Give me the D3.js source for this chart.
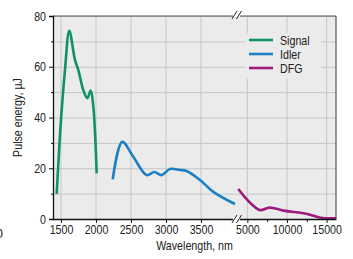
<!DOCTYPE html>
<html>
<head>
<meta charset="utf-8">
<script src="https://cdn.jsdelivr.net/npm/d3@7"></script>
<style>
  body { margin: 0; background: #fff; }
  text { font-family: "Liberation Sans", Arial, sans-serif; fill: #222; }
</style>
</head>
<body>
<div id="chart"></div>
<script>
// values (wavelength nm, pulse energy uJ)
var signalX = [1439, 1500, 1557, 1619, 1700, 1748, 1819, 1876, 1924, 1962, 2010];
var signalY = [9.9, 39, 58.7, 74.2, 62.7, 58.7, 50.8, 47.6, 50.6, 44.3, 18.0];

var idlerX = [2239, 2376, 2533, 2724, 2833, 2939, 3057, 3200, 3286, 3486, 3676, 3986];
var idlerY = [15.6, 30.4, 24.5, 17.3, 18.5, 17.3, 19.7, 19.3, 19.0, 15.4, 10.7, 5.9];

var dfgX = [3856, 4708, 5650, 6614, 7795, 9574, 12548, 14237, 16270];
var dfgY = [11.8, 8.5, 5.5, 3.5, 4.5, 3.3, 2.0, 0.5, 0.3];

var yTicks = [0, 20, 40, 60, 80];
var yMinor = [10, 30, 50, 70];
var x1Ticks = [1500, 2000, 2500, 3000, 3500];
var x2Ticks = [5000, 10000, 15000];
var x2Minor = [7500, 12500];

var seriesNames = ['Signal', 'Idler', 'DFG'];
var seriesColors = ['#12906a', '#1c80c3', '#9b1b7e'];

var W = 353, H = 259;
var pL = 53, pR = 336, pT = 16, pB = 219, brk = 238;

var svg = d3.select('#chart').append('svg').attr('width', W).attr('height', H);

var y = d3.scaleLinear().domain([0, 80]).range([pB, pT]);
var x1 = d3.scaleLinear().domain([1386, 4029]).range([pL, brk]);
var x2 = d3.scaleLinear().domain([3818, 16188]).range([brk, pR]);

// squeeze text to look like the narrow font of the original
function narrow(sel) {
  sel.each(function() {
    var len = this.getComputedTextLength();
    if (len > 0) d3.select(this).attr('textLength', len * 0.82).attr('lengthAdjust', 'spacingAndGlyphs');
  });
}

// plot background
svg.append('rect').attr('x', pL).attr('y', pT).attr('width', pR - pL).attr('height', pB - pT)
  .attr('fill', '#ebebeb');

// grid
var grid = svg.append('g').attr('stroke', '#c6c6c6').attr('stroke-width', 1);
yTicks.concat(yMinor).forEach(function(v) {
  grid.append('line').attr('x1', pL).attr('x2', pR).attr('y1', y(v) + 0.5).attr('y2', y(v) + 0.5);
});
x1Ticks.forEach(function(v) {
  grid.append('line').attr('x1', x1(v)).attr('x2', x1(v)).attr('y1', pT).attr('y2', pB);
});
x2Ticks.forEach(function(v) {
  grid.append('line').attr('x1', x2(v)).attr('x2', x2(v)).attr('y1', pT).attr('y2', pB);
});

// top / right frame
svg.append('line').attr('x1', pL).attr('x2', pR).attr('y1', pT).attr('y2', pT).attr('stroke', '#555').attr('stroke-width', 1.2);
svg.append('line').attr('x1', pR).attr('x2', pR).attr('y1', pT).attr('y2', pB).attr('stroke', '#555').attr('stroke-width', 1.2);

// lines
svg.append('clipPath').attr('id', 'c1').append('rect')
  .attr('x', pL).attr('y', 0).attr('width', brk - pL).attr('height', H);
svg.append('clipPath').attr('id', 'c2').append('rect')
  .attr('x', brk - 2).attr('y', 0).attr('width', pR - brk + 2).attr('height', H);

function drawLine(xs, ys, sc, color, clip) {
  var pts = xs.map(function(d, i) { return [d, ys[i]]; });
  var line = d3.line().x(function(d) { return sc(d[0]); }).y(function(d) { return y(d[1]); })
    .curve(d3.curveCatmullRom.alpha(0.5));
  svg.append('path').datum(pts).attr('d', line).attr('fill', 'none')
    .attr('stroke', color).attr('stroke-width', 2.6)
    .attr('stroke-linejoin', 'round').attr('clip-path', 'url(#' + clip + ')');
}
drawLine(signalX, signalY, x1, seriesColors[0], 'c1');
drawLine(idlerX, idlerY, x1, seriesColors[1], 'c1');
drawLine(dfgX, dfgY, x2, seriesColors[2], 'c2');

// axes
svg.append('g').attr('transform', 'translate(' + pL + ',0)')
  .call(d3.axisLeft(y).tickValues(yTicks).tickSize(4).tickPadding(3));
svg.append('g').attr('transform', 'translate(' + pL + ',0)')
  .call(d3.axisLeft(y).tickValues(yMinor).tickSize(2).tickFormat(''))
  .select('.domain').remove();
svg.append('g').attr('transform', 'translate(0,' + pB + ')')
  .call(d3.axisBottom(x1).tickValues(x1Ticks).tickSize(4).tickPadding(2).tickSizeOuter(0).tickFormat(d3.format('d')));
svg.append('g').attr('transform', 'translate(0,' + pB + ')')
  .call(d3.axisBottom(x2).tickValues(x2Ticks).tickSize(4).tickPadding(2).tickSizeOuter(0).tickFormat(d3.format('d')));
svg.append('g').attr('transform', 'translate(0,' + pB + ')')
  .call(d3.axisBottom(x2).tickValues(x2Minor).tickSize(3).tickSizeOuter(0).tickFormat(''))
  .select('.domain').remove();
svg.selectAll('.domain').attr('stroke', '#111').attr('stroke-width', 1.3);
svg.selectAll('.tick line').attr('stroke', '#111');
svg.selectAll('.tick text').attr('font-size', 13).attr('fill', '#222')
  .style('font-family', '"Liberation Sans", Arial, sans-serif')
  .call(narrow);

// break marks
function breakMark(cy) {
  var g = svg.append('g');
  g.append('rect').attr('x', 233).attr('y', cy - 2).attr('width', 7).attr('height', 4).attr('fill', '#fff');
  [232, 236.5].forEach(function(bx) {
    g.append('line').attr('x1', bx).attr('y1', cy + 4).attr('x2', bx + 5).attr('y2', cy - 4)
      .attr('stroke', '#222').attr('stroke-width', 1);
  });
}
breakMark(pB);
breakMark(pT - 1);

// legend
var leg = svg.append('g');
leg.append('rect').attr('x', 245).attr('y', 33).attr('width', 76).attr('height', 46).attr('fill', '#ebebeb');
seriesNames.forEach(function(n, i) {
  var ly = 40 + i * 14;
  leg.append('line').attr('x1', 249).attr('x2', 273).attr('y1', ly).attr('y2', ly)
    .attr('stroke', seriesColors[i]).attr('stroke-width', 2.6);
  leg.append('text').attr('x', 280).attr('y', ly + 4.5).attr('font-size', 13).text(n).call(narrow);
});

// axis titles
svg.append('text').attr('x', (pL + pR) / 2).attr('y', 250).attr('text-anchor', 'middle')
  .attr('font-size', 13).text('Wavelength, nm').call(narrow);
svg.append('text').attr('transform', 'translate(22,' + ((pT + pB) / 2) + ') rotate(-90)')
  .attr('text-anchor', 'middle').attr('font-size', 13).text('Pulse energy, µJ').call(narrow);
// clipped label fragment at the left edge
svg.append('text').attr('x', 3).attr('y', 238).attr('text-anchor', 'end').attr('font-size', 13).text('0');
</script>
</body>
</html>
